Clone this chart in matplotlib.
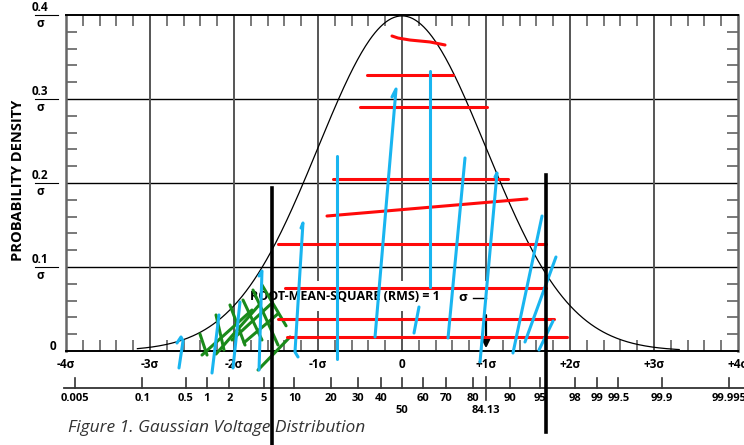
import matplotlib
matplotlib.use('Agg')
import matplotlib.pyplot as plt
from matplotlib.ticker import MultipleLocator
import numpy as np
from statistics import NormalDist

plt.rcParams['font.family'] = ['Open Sans', 'DejaVu Sans']

# sigma axis and density axis
sigma_ticks = [-4, -3, -2, -1, 0, 1, 2, 3, 4]
sigma_labels = ['-4σ', '-3σ', '-2σ', '-1σ', '0', '+1σ', '+2σ', '+3σ', '+4σ']
density_ticks = [0.1, 0.2, 0.3, 0.4]
density_labels = ['0.1', '0.2', '0.3', '0.4']

# cumulative percent scale below the sigma axis
pct_row1 = [0.005, 0.1, 0.5, 1, 2, 5, 10, 20, 30, 40, 60, 70, 80, 90, 95, 98, 99, 99.5, 99.9, 99.995]
pct_row2 = [50, 84.13]

# the gaussian curve is drawn over this sigma range
curve_range = (-3.15, 3.3)

# hand drawn marks on the chart (sigma, density)
red_marks = [
    [(-0.119, 0.375), (-0.048, 0.3726), (0.095, 0.3702), (0.333, 0.3679), (0.512, 0.3643)],
    [(-0.417, 0.3286), (0.607, 0.3286)],
    [(-0.5, 0.2905), (1.012, 0.2905)],
    [(-0.821, 0.2048), (1.262, 0.2048)],
    [(-0.893, 0.1607), (1.488, 0.181)],
    [(-1.476, 0.1268), (1.714, 0.1268)],
    [(-1.393, 0.075), (1.714, 0.075)],
    [(-1.476, 0.0381), (1.81, 0.0381)],
    [(-1.369, 0.0167), (1.964, 0.0167)],
]
blue_marks = [
    [(-2.679, 0.0095), (-2.631, 0.0167), (-2.607, 0.0119), (-2.655, -0.0202)],
    [(-2.179, 0.0429), (-2.262, -0.0262)],
    [(-1.929, 0.0583), (-2.012, -0.0202)],
    [(-1.702, 0.0893), (-1.667, 0.0952), (-1.702, -0.0226)],
    [(-1.202, 0.1464), (-1.179, 0.1524), (-1.274, -0.0012), (-1.238, -0.0071)],
    [(-0.774, 0.2321), (-0.774, -0.0095)],
    [(-0.119, 0.3024), (-0.071, 0.3119), (-0.321, 0.0167)],
    [(0.333, 0.3333), (0.333, 0.0762)],
    [(0.202, 0.0524), (0.143, 0.0214)],
    [(0.75, 0.2298), (0.548, 0.0155)],
    [(1.107, 0.2071), (1.131, 0.2119), (0.929, -0.0131)],
    [(1.667, 0.1607), (1.321, -0.0024)],
    [(1.833, 0.1119), (1.464, 0.0107)],
    [(1.798, 0.0357), (1.631, 0.0012)],
]
green_marks = [
    [(-2.381, -0.0048), (-1.786, 0.0488)],
    [(-2.214, -0.0036), (-1.690, 0.0560)],
    [(-2.024, 0.0131), (-1.560, 0.0560)],
    [(-1.880, 0.0100), (-1.480, 0.0440)],
    [(-1.714, -0.0226), (-1.333, 0.0167)],
    [(-2.405, 0.0202), (-2.321, -0.0048)],
    [(-2.214, 0.0429), (-2.119, 0.0012)],
    [(-2.048, 0.0548), (-1.869, 0.0071)],
    [(-1.893, 0.0607), (-1.667, 0.0131)],
    [(-1.774, 0.0726), (-1.476, 0.0071)],
    [(-1.667, 0.0786), (-1.380, 0.0300)],
]
black_marks = [
    [(-1.548, 0.194), (-1.548, -0.12)],
    [(1.714, 0.2095), (1.714, -0.0964)],
]
rms_text = 'ROOT-MEAN-SQUARE (RMS) = 1'

fig = plt.figure(figsize=(7.44, 4.45), dpi=100)
ax = fig.add_axes([66 / 744, 94 / 445, 672 / 744, 336 / 445])
ax.set_xlim(-4, 4)
ax.set_ylim(0, 0.4)

# grid: horizontal lines black, vertical lines grey with a gap for the label
for y in density_ticks[:-1]:
    ax.plot([-4, 4], [y, y], color='black', lw=1.0, zorder=1)
gap_lo, gap_hi = 0.046, 0.0845
for x in sigma_ticks[1:-1]:
    if x in (-1, 0):
        ax.plot([x, x], [0, gap_lo], color='#555555', lw=1.4, zorder=1)
        ax.plot([x, x], [gap_hi, 0.4], color='#555555', lw=1.4, zorder=1)
    elif x == 1:
        ax.plot([x, x], [gap_hi, 0.4], color='#555555', lw=1.4, zorder=1)
    else:
        ax.plot([x, x], [0, 0.4], color='#555555', lw=1.4, zorder=1)

xs = np.linspace(curve_range[0], curve_range[1], 400)
nd = NormalDist()
ax.plot(xs, [nd.pdf(v) for v in xs], color='black', lw=0.9, zorder=3)

# spines and ticks
for side in ['left', 'right']:
    ax.spines[side].set_color('#666666')
    ax.spines[side].set_linewidth(1.8)
for side in ['top', 'bottom']:
    ax.spines[side].set_color('black')
    ax.spines[side].set_linewidth(1.4)
ax.set_xticks(sigma_ticks)
ax.set_xticklabels(sigma_labels, fontsize=8.5, fontweight='bold')
ax.set_yticks([0] + density_ticks)
ax.set_yticklabels([])
ax.xaxis.set_minor_locator(MultipleLocator(0.2))
ax.yaxis.set_minor_locator(MultipleLocator(0.02))
ax.tick_params(which='major', length=0, pad=5)
ax.tick_params(which='minor', direction='in', length=8, width=1.1, color='#555555',
               top=True, right=True, bottom=True, left=True)

# y labels as fractions
for y, lab in zip(density_ticks, density_labels):
    ax.text(-4.31, y + 0.0015, lab, ha='center', va='bottom', fontsize=8.5, fontweight='bold',
            clip_on=False)
    ax.plot([-4.37, -4.1], [y, y], color='black', lw=0.8, clip_on=False)
    ax.text(-4.31, y - 0.002, 'σ', ha='center', va='top', fontsize=8.5, fontweight='bold',
            clip_on=False)
ax.text(-4.15, 0.005, '0', ha='center', va='center', fontsize=8.5, fontweight='bold', clip_on=False)
fig.text(18 / 744, 1 - 180 / 445, 'PROBABILITY DENSITY', rotation=90, ha='center', va='center',
         fontsize=10.5, fontweight='bold')

# cumulative percent scale
inv = nd.inv_cdf
ax.plot([-4.02, 4.1], [-0.044, -0.044], color='#333333', lw=1.3, clip_on=False)
for p in pct_row1 + pct_row2:
    x = inv(p / 100)
    if p == 84.13:
        ax.plot([x, x], [-0.031, -0.058], color='#333333', lw=1.2, clip_on=False)
    else:
        ax.plot([x, x], [-0.044, -0.032], color='#333333', lw=1.2, clip_on=False)
for p in pct_row1:
    ax.text(inv(p / 100), -0.057, f'{p:g}', ha='center', va='center', fontsize=8,
            fontweight='bold', clip_on=False)
for p in pct_row2:
    ax.text(inv(p / 100), -0.071, f'{p:g}', ha='center', va='center', fontsize=8,
            fontweight='bold', clip_on=False)

# rms note and arrow at +1 sigma
ax.text(-1.81, 0.0643, rms_text, ha='left', va='center', fontsize=9, fontweight='bold', zorder=4)
ax.text(0.72, 0.0631, 'σ', ha='center', va='center', fontsize=9.5, fontweight='bold', zorder=4)
ax.plot([0.84, 1.0], [0.0631, 0.0631], color='black', lw=1.0, zorder=4)
ax.annotate('', xy=(1.0, 0.0), xytext=(1.0, 0.046),
            arrowprops=dict(arrowstyle='-|>', color='black', lw=1.6, mutation_scale=12), zorder=4)

# hand drawn marks
for pts in green_marks:
    px, py = zip(*pts)
    ax.plot(px, py, color='#1a8a1a', lw=2.2, solid_capstyle='round', clip_on=False, zorder=5)
for pts in red_marks:
    px, py = zip(*pts)
    ax.plot(px, py, color='#ff0a0a', lw=2.2, solid_capstyle='round', clip_on=False, zorder=6)
for pts in blue_marks:
    px, py = zip(*pts)
    ax.plot(px, py, color='#19b5f0', lw=2.2, solid_capstyle='round', clip_on=False, zorder=7)
for pts in black_marks:
    px, py = zip(*pts)
    ax.plot(px, py, color='black', lw=2.6, clip_on=False, zorder=8)

fig.text(68 / 744, 1 - 428 / 445, 'Figure 1. Gaussian Voltage Distribution', ha='left', va='center',
         fontsize=12.5, style='italic', color='#333333')

fig.savefig('out.png', dpi=100)
